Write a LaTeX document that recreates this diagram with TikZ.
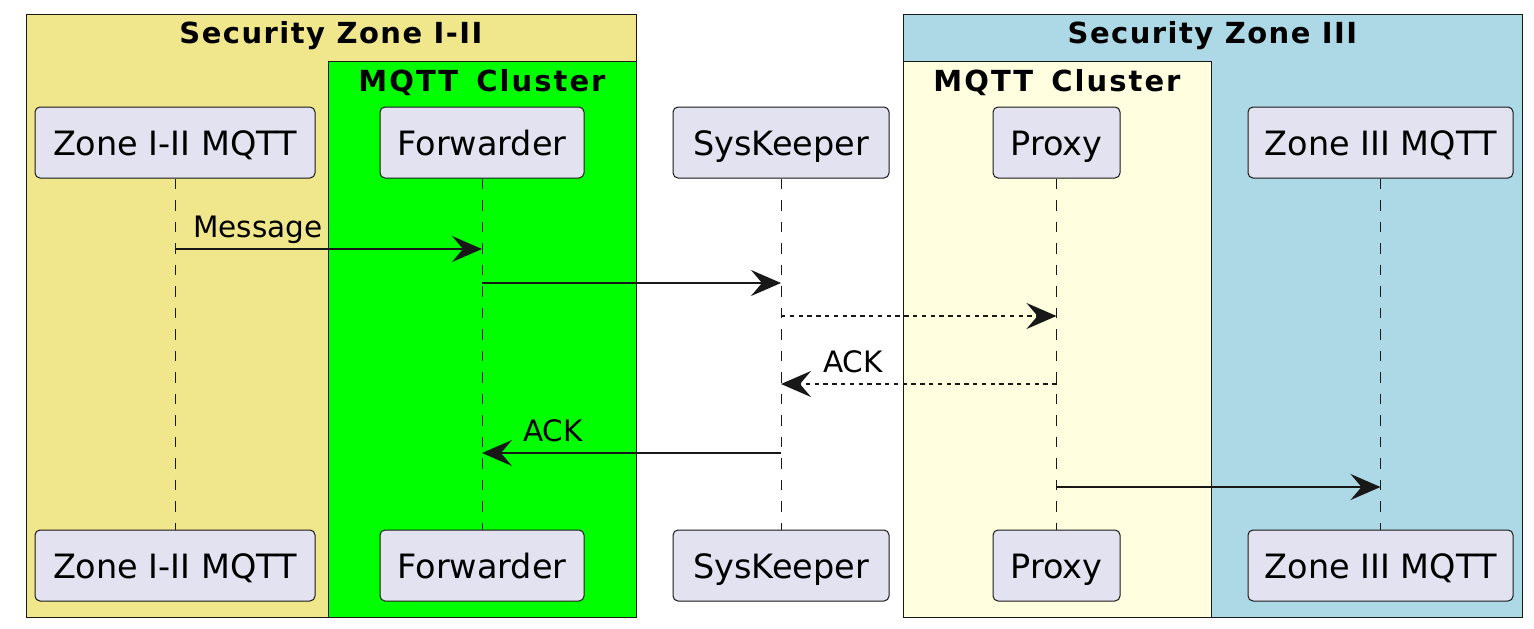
\documentclass[tikz,border=0pt]{standalone}
\usepackage{fontspec}
\setmainfont{DejaVu Sans}
\newfontfamily\ttlfont{DejaVu Sans Bold}[LetterSpace=5]
\newfontfamily\clsfont{DejaVu Sans Bold}[LetterSpace=7]
\usetikzlibrary{arrows.meta,calc}
\definecolor{zonekhaki}{HTML}{F0E68C}
\definecolor{zonegreen}{HTML}{00FF00}
\definecolor{zoneblue}{HTML}{ADD8E6}
\definecolor{zoneyellow}{HTML}{FFFFE0}
\definecolor{partfill}{HTML}{E2E2F0}
\definecolor{ink}{HTML}{181818}
\begin{document}
\begin{tikzpicture}[x=1pt,y=-1pt,
  zonebox/.style={draw=ink, line width=1pt},
  zonetitle/.style={anchor=base, inner sep=0pt, font=\ttlfont\fontsize{29}{34}\selectfont},
  clustertitle/.style={anchor=base, inner sep=0pt, font=\clsfont\fontsize{29}{34}\selectfont},
  part/.style={draw=ink, fill=partfill, rounded corners=5pt, line width=1pt,
    minimum height=71pt, inner sep=0pt, text height=25pt, text depth=0pt,
    font=\fontsize{33.5}{40}\selectfont},
  lifeline/.style={draw=ink, line width=1pt, dash pattern=on 10.5pt off 11pt},
  msg/.style={draw=ink, line width=2pt, -{Stealth[length=30pt,width=26pt,inset=11pt]}},
  retmsg/.style={msg, dash pattern=on 4.4pt off 4.4pt},
  lbl/.style={anchor=base west, inner sep=0pt, font=\fontsize{29.5}{35}\selectfont}
]
\useasboundingbox (0,0) rectangle (1534,629);
% zones
\path[zonebox, fill=zonekhaki] (26,14) rectangle (636,617);
\path[zonebox, fill=zonegreen] (328,61) rectangle (636,617);
\path[zonebox, fill=zoneblue] (903,14) rectangle (1522,617);
\path[zonebox, fill=zoneyellow] (903,61) rectangle (1211,617);
\node[zonetitle] (t1) at (331,43) {Security Zone I-II};
\node[clustertitle] (t2) at (482,91) {MQTT\hspace{6pt} Cluster};
\node[zonetitle] (t3) at (1212.5,43) {Security Zone III};
\node[clustertitle] (t4) at (1057,91) {MQTT\hspace{6pt} Cluster};
% participants top
\node[part, minimum width=280pt] (zi) at (175,142.5) {Zone I-II MQTT};
\node[part, minimum width=204pt] (fw) at (482,142.5) {Forwarder};
\node[part, minimum width=216pt] (sk) at (781,142.5) {SysKeeper};
\node[part, minimum width=127pt] (px) at (1056.5,142.5) {Proxy};
\node[part, minimum width=265pt] (zt) at (1380.5,142.5) {Zone III MQTT};
% participants bottom
\node[part, minimum width=280pt] (zib) at (175,565.5) {Zone I-II MQTT};
\node[part, minimum width=204pt] (fwb) at (482,565.5) {Forwarder};
\node[part, minimum width=216pt] (skb) at (781,565.5) {SysKeeper};
\node[part, minimum width=127pt] (pxb) at (1056.5,565.5) {Proxy};
\node[part, minimum width=265pt] (ztb) at (1380.5,565.5) {Zone III MQTT};
% lifelines
\foreach \a/\b in {zi/zib, fw/fwb, sk/skb, px/pxb, zt/ztb}
  \draw[lifeline] (\a.south) -- (\b.north);
% message rows
\coordinate (r1) at (0,249);
\coordinate (r2) at (0,283);
\coordinate (r3) at (0,316);
\coordinate (r4) at (0,384);
\coordinate (r5) at (0,453);
\coordinate (r6) at (0,487);
\draw[msg] (zi |- r1) -- (fw |- r1);
\node[lbl] (l1) at ($(zi |- r1)+(18,-12)$) {Message};
\draw[msg] (fw |- r2) -- (sk |- r2);
\draw[retmsg] (sk |- r3) -- (px |- r3);
\draw[retmsg] (px |- r4) -- (sk |- r4);
\node[lbl] (l4) at ($(sk |- r4)+(42,-12)$) {ACK};
\draw[msg] (sk |- r5) -- (fw |- r5);
\node[lbl] (l5) at ($(fw |- r5)+(41,-12)$) {ACK};
\draw[msg] (px |- r6) -- (zt |- r6);
\end{tikzpicture}
\end{document}
